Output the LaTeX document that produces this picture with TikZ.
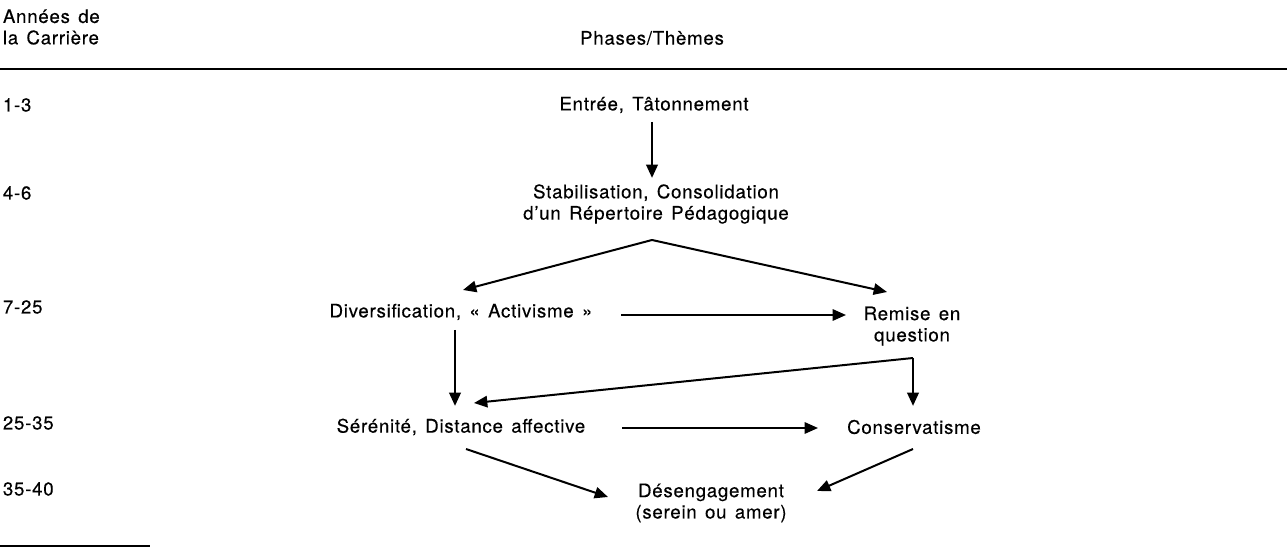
\documentclass[tikz,border=0pt]{standalone}
\usepackage{fontspec}
\setmainfont{TeX Gyre Heros}[LetterSpace=4, WordSpace=1.4, FakeBold=0.3]
\usetikzlibrary{arrows.meta}
\begin{document}
\begin{tikzpicture}[x=0.75pt, y=-0.75pt, >={Triangle[length=10pt,width=8.5pt]},
    every node/.style={font=\fontsize{14}{16}\selectfont, inner sep=2pt},
    year/.style={anchor=west},
    phase/.style={align=center},
    arr/.style={->, line width=1.5pt},
    varr/.style={->, line width=2pt}]
  \useasboundingbox (0,0) rectangle (1287,548);
  % en-tete
  \node[anchor=west, align=left] (annees) at (0,27) {Années de\\la Carrière};
  \node (phases) at (652,38) {Phases/Thèmes};
  \draw[line width=1.5pt] (0,69) -- (1287,69);
  \draw[line width=1.5pt] (0,546) -- (150,546);

  % annees
  \node[year] (y1) at (0,105) {1-3};
  \node[year] (y2) at (0,193) {4-6};
  \node[year] (y3) at (0,307) {7-25};
  \node[year] (y4) at (0,423) {25-35};
  \node[year] (y5) at (0,489) {35-40};

  % phases
  \node[phase] (entree) at (654,105) {Entrée, Tâtonnement};
  \node[phase] (stab) at (656,204) {Stabilisation, Consolidation\\d'un Répertoire Pédagogique};
  \node[phase] (div) at (461,312) {Diversification, « Activisme »};
  \node[phase] (rem) at (912,326) {Remise en\\question};
  \node[phase] (ser) at (461,427) {Sérénité, Distance affective};
  \node[phase] (cons) at (914,427) {Conservatisme};
  \node[phase] (des) at (711,503) {Désengagement\\(serein ou amer)};

  % bouts des fleches
  \coordinate (e-out) at (652,122);  \coordinate (s-in) at (652,178);
  \coordinate (apex) at (652,240);
  \coordinate (d-in) at (463,290);   \coordinate (r-in) at (887,292);
  \coordinate (d-out) at (621,315);  \coordinate (r-left) at (846,315);
  \coordinate (d-down) at (455,330); \coordinate (s-top) at (455,406);
  \coordinate (rem-coin) at (913,358);
  \coordinate (s-right) at (474,403); \coordinate (c-top) at (913,406);
  \coordinate (s-out) at (622,428);  \coordinate (c-left) at (818,428);
  \coordinate (s-low) at (466,449);  \coordinate (des-left) at (608,497);
  \coordinate (c-low) at (913,449);  \coordinate (des-right) at (817,491);

  % fleches
  \draw[varr] (e-out) -- (s-in);
  \draw[arr] (apex) -- (d-in);
  \draw[arr] (apex) -- (r-in);
  \draw[arr] (d-out) -- (r-left);
  \draw[varr] (d-down) -- (s-top);
  \draw[arr] (rem-coin) -- (s-right);
  \draw[varr] (rem-coin) -- (c-top);
  \draw[arr] (s-out) -- (c-left);
  \draw[arr] (s-low) -- (des-left);
  \draw[arr] (c-low) -- (des-right);
\end{tikzpicture}
\end{document}
